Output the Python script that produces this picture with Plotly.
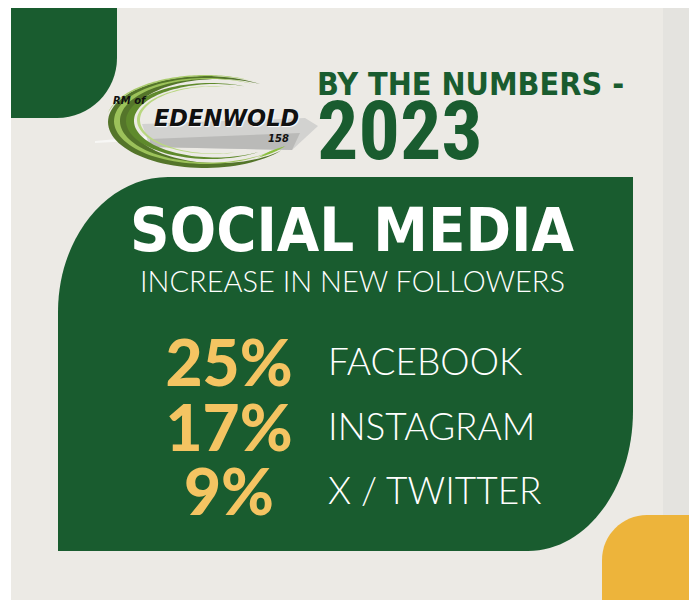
import numpy as np
import plotly.graph_objects as go

W, H = 697, 600
OFF = 8  # page body margin: data coordinates == screen pixels

# ---- content ----
title_line1 = "BY THE NUMBERS -"
title_line2 = "2023"
heading = "SOCIAL MEDIA"
subheading = "INCREASE IN NEW FOLLOWERS"
platforms = ["FACEBOOK", "INSTAGRAM", "X / TWITTER"]
increase_pct = [25, 17, 9]
logo_top = "RM of"
logo_name = "EDENWOLD"
logo_num = "158"

# ---- colours ----
BG = "#ECEAE5"
GREEN = "#195C2F"
GOLD = "#F4C462"
ORANGE = "#EDB43B"

K = 0.5523
COND = "Roboto Condensed, Liberation Sans Narrow, Arial Narrow, sans-serif"


def rounded_tl_br(x0, y0, x1, y1, rxa, rya, rxb, ryb):
    return (f"M {x0},{y0+rya} C {x0},{y0+rya*(1-K)} {x0+rxa*(1-K)},{y0} {x0+rxa},{y0} "
            f"L {x1},{y0} L {x1},{y1-ryb} "
            f"C {x1},{y1-ryb*(1-K)} {x1-rxb*(1-K)},{y1} {x1-rxb},{y1} "
            f"L {x0},{y1} Z")


def rounded_br(x0, y0, x1, y1, r):
    return (f"M {x0},{y0} L {x1},{y0} L {x1},{y1-r} "
            f"C {x1},{y1-r*(1-K)} {x1-r*(1-K)},{y1} {x1-r},{y1} L {x0},{y1} Z")


def rounded_tl(x0, y0, x1, y1, r):
    return (f"M {x0},{y0+r} C {x0},{y0+r*(1-K)} {x0+r*(1-K)},{y0} {x0+r},{y0} "
            f"L {x1},{y0} L {x1},{y1} L {x0},{y1} Z")


def swoosh(cx, cy, rx, ry, t0, t1, w, p=1.0, n=80):
    ts = np.radians(np.linspace(t0, t1, n))
    env = np.sin(np.linspace(0, np.pi, n)) ** p
    ox = cx + rx * np.cos(ts)
    oy = cy + ry * np.sin(ts)
    ww = w * env
    ix = cx + (rx - ww) * np.cos(ts)
    iy = cy + (ry - ww * ry / rx) * np.sin(ts)
    pts = list(zip(ox, oy)) + list(zip(ix[::-1], iy[::-1]))
    return "M " + " L ".join(f"{x:.1f},{y:.1f}" for x, y in pts) + " Z"


shapes = []


def add(path, color, opacity=1.0):
    shapes.append(dict(type="path", path=path, fillcolor=color, line=dict(width=0),
                       xref="x", yref="y", layer="below", opacity=opacity))


# background
shapes.append(dict(type="rect", x0=663, x1=720, y0=0, y1=620, fillcolor="#E4E3DF",
                   line=dict(width=0), layer="below"))
shapes.append(dict(type="rect", x0=11, x1=663, y0=7, y1=620, fillcolor=BG,
                   line=dict(width=0), layer="below"))
# corner decorations
add(rounded_br(11, 7, 117, 118, 60), GREEN)
add(rounded_tl(602, 515, 720, 620, 45), ORANGE)
# main panel
add(rounded_tl_br(58, 177, 633, 551, 110, 135, 105, 140), GREEN)

# logo
add("M 95,141 L 150,136 L 150,140 L 95,143 Z", "#F7F7F5")
add("M 142,124 L 305,118 L 318,126 L 292,150 L 150,147 Z", "#D2D2D0")
add("M 150,139 L 300,133 L 292,150 L 150,147 Z", "#BABAB8")
add(swoosh(205, 122, 97, 46, -55, -322, 22, 1.2), "#54752A")
add(swoosh(206, 121, 92, 43, -60, -318, 6, 1.0), "#9CC25A")
add(swoosh(210, 121, 84, 38, -66, -305, 8, 1.0), "#5F8A2C")
add(swoosh(213, 120, 76, 34, -70, -295, 3, 1.0), "#B9D780")
add(swoosh(205, 122, 99, 47, -58, -170, 3, 1.0), "#A9CB6C")
add(swoosh(215, 123, 86, 40, -300, -325, 4, 1.0), "#8CBF3F")

fig = go.Figure()

row_y = [363, 428, 492]

fig.add_trace(go.Scatter(
    x=[229] * len(increase_pct), y=[v + 7 for v in row_y], mode="text",
    text=[f"{v}%" for v in increase_pct], textposition="middle center",
    textfont=dict(family="Lato", size=64, color=GOLD, weight=900),
    hoverinfo="skip", showlegend=False))

fig.add_trace(go.Scatter(
    x=[328] * len(platforms), y=[v + 3 for v in row_y], mode="text",
    text=platforms, textposition="middle right",
    textfont=dict(family="Lato", size=37, color="#FFFFFF", weight=300),
    hoverinfo="skip", showlegend=False))

annotations = [
    dict(x=315, y=84, text=title_line1, xanchor="left", yanchor="middle",
         font=dict(family="DejaVu Sans Condensed", size=32, color=GREEN, weight="bold")),
    dict(x=315, y=131, text=title_line2, xanchor="left", yanchor="middle",
         font=dict(family=COND, size=82, color=GREEN, weight="bold")),
    dict(x=352, y=229, text=heading, xanchor="center", yanchor="middle",
         font=dict(family="DejaVu Sans Condensed", size=61, color="#FFFFFF", weight="bold")),
    dict(x=352, y=280, text=subheading, xanchor="center", yanchor="middle",
         font=dict(family="Lato", size=29, color="#FFFFFF", weight=300)),
    dict(x=152, y=118, text=logo_name, xanchor="left", yanchor="middle",
         font=dict(family="DejaVu Sans", size=22.5, color="#111111", weight="bold",
                   style="italic", shadow="1px 1px 1px #FFFFFF")),
    dict(x=111, y=100, text=logo_top, xanchor="left", yanchor="middle",
         font=dict(family="DejaVu Sans", size=10, color="#111111", weight="bold",
                   style="italic")),
    dict(x=266, y=138, text=logo_num, xanchor="left", yanchor="middle",
         font=dict(family="DejaVu Sans", size=10, color="#111111", weight="bold",
                   style="italic")),
]
for a in annotations:
    a.update(xref="x", yref="y", showarrow=False)

fig.update_layout(
    width=W, height=H, margin=dict(l=0, r=0, t=0, b=0),
    paper_bgcolor="#FFFFFF", plot_bgcolor="rgba(0,0,0,0)",
    xaxis=dict(range=[OFF, W + OFF], visible=False, fixedrange=True),
    yaxis=dict(range=[H + OFF, OFF], visible=False, fixedrange=True),
    shapes=shapes, annotations=annotations, showlegend=False,
)

fig.write_html("out.html", config={"displayModeBar": False})
